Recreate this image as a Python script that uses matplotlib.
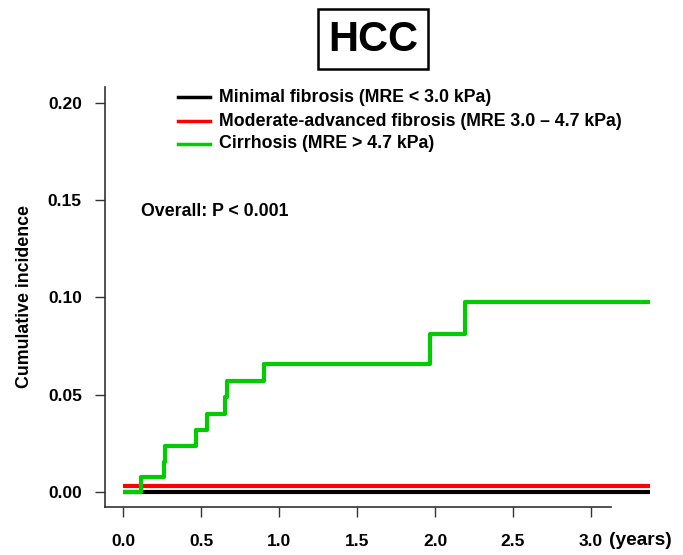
import matplotlib
matplotlib.use("Agg")
import matplotlib.pyplot as plt
from matplotlib.patches import Rectangle

plt.rcParams['font.family'] = ['Liberation Sans', 'DejaVu Sans']
plt.rcParams['font.weight'] = 'bold'

# Data
groups = ["Minimal fibrosis (MRE < 3.0 kPa)",
          "Moderate-advanced fibrosis (MRE 3.0 \u2013 4.7 kPa)",
          "Cirrhosis (MRE > 4.7 kPa)"]
colors = ["black", "#ff0000", "#00cc00"]
t_minimal = [0.0, 3.38]
ci_minimal = [0.0, 0.0]
t_moderate = [0.0, 3.38]
ci_moderate = [0.003, 0.003]
t_cirr = [0.0, 0.113, 0.265, 0.27, 0.466, 0.54, 0.656, 0.665, 0.906, 1.97, 2.19, 3.38]
ci_cirr = [0.0, 0.0079, 0.0156, 0.0236, 0.0317, 0.0401, 0.049, 0.057, 0.0659, 0.0812, 0.0976, 0.0976]
xticks = [0.0, 0.5, 1.0, 1.5, 2.0, 2.5, 3.0]
yticks = [0.00, 0.05, 0.10, 0.15, 0.20]

W, H = 683, 555
fig = plt.figure(figsize=(W / 100, H / 100), dpi=100)

def fx(px):
    return px / W

def fy(py):
    return 1 - py / H

ax = fig.add_axes([fx(105), fy(507), fx(660) - fx(105), fy(87) - fy(507)])
ax.set_xlim(-0.1154, 3.442)
ax.set_ylim(-0.0077, 0.2081)

ax.plot(t_minimal, ci_minimal, color=colors[0], lw=3.0, drawstyle='steps-post', solid_capstyle='butt')
ax.plot(t_moderate, ci_moderate, color=colors[1], lw=3.0, drawstyle='steps-post', solid_capstyle='butt')
ax.plot(t_cirr, ci_cirr, color=colors[2], lw=3.0, drawstyle='steps-post', solid_capstyle='butt')

for s in ['top', 'right']:
    ax.spines[s].set_visible(False)
ax.spines['bottom'].set_bounds(-0.115, 3.128)
for s in ['left', 'bottom']:
    ax.spines[s].set_linewidth(1.2)
    ax.spines[s].set_color('#333333')

ax.set_xticks(xticks)
ax.set_xticklabels([f"{v:.1f}" for v in xticks])
ax.set_yticks(yticks)
ax.set_yticklabels([f"{v:.2f}" for v in yticks])
ax.tick_params(axis='both', length=7.2, width=1.0, color='#333333', labelsize=12.5)
ax.tick_params(axis='x', pad=12.5)
ax.tick_params(axis='y', pad=9.5)
for lab in ax.get_xticklabels() + ax.get_yticklabels():
    lab.set_fontweight('bold')

ax.set_ylabel("Cumulative incidence", fontsize=12.8, fontweight='bold')
ax.yaxis.set_label_coords((fx(33) - fx(105)) / (fx(660) - fx(105)),
                          (fy(296) - fy(507)) / (fy(87) - fy(507)))

fig.text(fx(609), fy(540.5), "(years)", fontsize=13.8, fontweight='bold', ha='left', va='center')

# legend (manual)
rows_y = [97, 121, 144]
for c, g, yy in zip(colors, groups, rows_y):
    fig.add_artist(plt.Line2D([fx(178), fx(210)], [fy(yy), fy(yy)], color=c, lw=2.5,
                              transform=fig.transFigure))
    fig.text(fx(219), fy(yy), g, fontsize=12.8, fontweight='bold', ha='left', va='center')

fig.text(fx(141), fy(212), "Overall: P < 0.001", fontsize=12.8, fontweight='bold', ha='left', va='center')

# title in box
fig.add_artist(Rectangle((fx(318), fy(69)), fx(428) - fx(318), fy(9) - fy(69),
                         transform=fig.transFigure, fill=False, lw=1.8, edgecolor='black'))
fig.text(fx(373), fy(40), "HCC", fontsize=30, fontweight='bold', ha='center', va='center')

fig.savefig("out.png", dpi=100)
